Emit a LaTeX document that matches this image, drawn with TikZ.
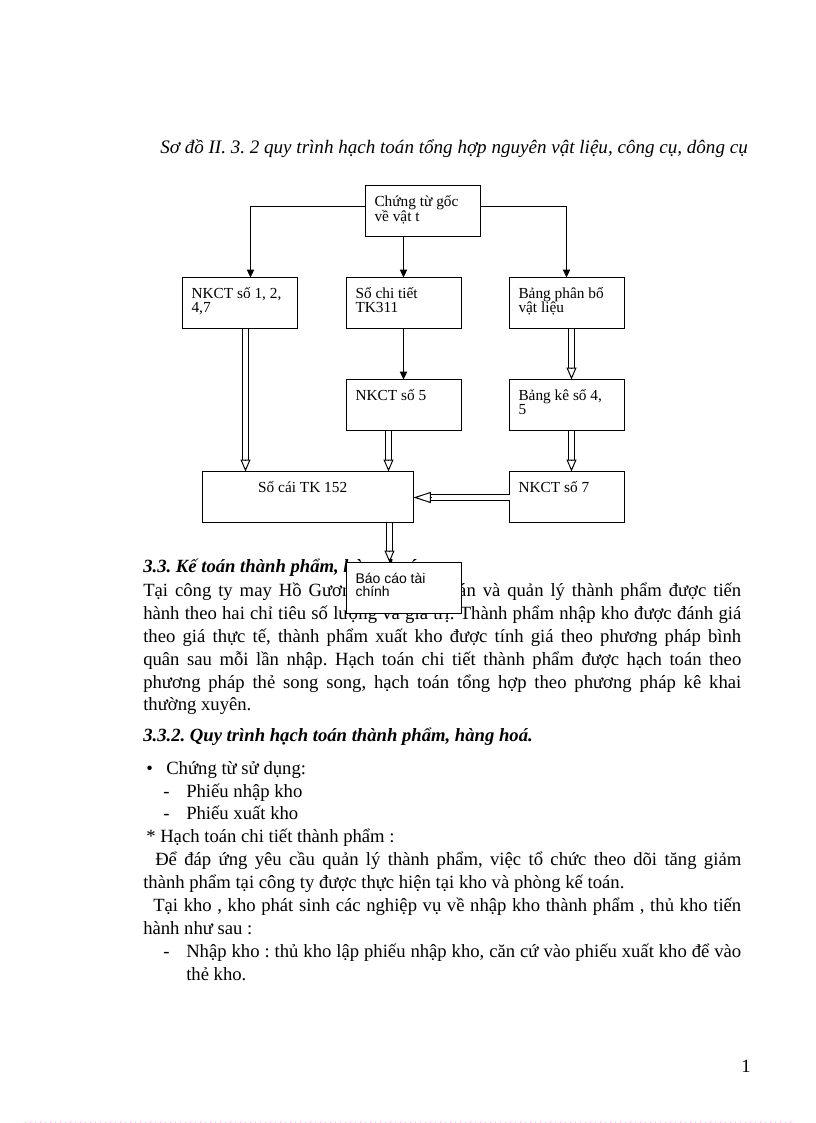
\documentclass[tikz,border=0pt]{standalone}
\usepackage{fontspec}
\setmainfont{Liberation Serif}
\newfontfamily\sansf{Liberation Sans}
\usetikzlibrary{arrows.meta,calc}
\frenchspacing
\definecolor{pinkdot}{RGB}{255,175,255}
\newcommand\bx[3]{\parbox[t][#2][t]{#1}{\rule{0pt}{15.5pt}#3}}
\newcommand\DblArrow[4]{%
  \draw[dbl, shorten >=#3] (#1) -- (#2);
  \draw[line width=0.75pt, -{Triangle[open,length=#3,width=#4]}] ($(#2)!#3!(#1)$) -- (#2);}
\begin{document}
\begin{tikzpicture}[x=0.75pt,y=-0.75pt,
  txt/.style={anchor=base west, inner sep=0pt, font=\fontsize{14}{17}\selectfont},
  boxnode/.style={draw, line width=0.75pt, fill=white, anchor=north west, outer sep=0pt,
    inner xsep=6.75pt, inner ysep=0pt, font=\fontsize{11.5}{10.7}\selectfont},
  sarrow/.style={line width=0.75pt, -{Triangle[length=6pt,width=5.5pt]}},
  dbl/.style={double, double distance=3.75pt, line width=0.75pt}]
\useasboundingbox (0,0) rectangle (816,1123);
\fill[white] (0,0) rectangle (816,1123);

% title
\node[txt, font=\fontsize{14.3}{17}\selectfont\itshape] (title) at (160,154) {Sơ đồ II. 3. 2 quy trình hạch toán tổng hợp nguyên vật liệu, công cụ, dông cụ};

% body text
\node[txt, font=\fontsize{14}{17}\selectfont\bfseries\itshape] (h1) at (143,572) {3.3. Kế toán thành phẩm, hàng hoá};
\node[txt] (p1) at (143,596.5) {\makebox[448.5pt][s]{Tại công ty may Hồ Gươm việc hạch toán và quản lý thành phẩm được tiến}};
\node[txt] (p2) at (143,619.5) {\makebox[448.5pt][s]{hành theo hai chỉ tiêu số lượng và giá trị. Thành phẩm nhập kho được đánh giá}};
\node[txt] (p3) at (143,642.5) {\makebox[448.5pt][s]{theo giá thực tế, thành phẩm xuất kho được tính giá theo phương pháp bình}};
\node[txt] (p4) at (143,665.5) {\makebox[448.5pt][s]{quân sau mỗi lần nhập. Hạch toán chi tiết thành phẩm được hạch toán theo}};
\node[txt] (p5) at (143,688.5) {\makebox[448.5pt][s]{phương pháp thẻ song song, hạch toán tổng hợp theo phương pháp kê khai}};
\node[txt] (p6) at (143,710.5) {thường xuyên.};
\node[txt, font=\fontsize{14}{17}\selectfont\bfseries\itshape] (h2) at (143,741) {3.3.2. Quy trình hạch toán thành phẩm, hàng hoá.};
\node[txt] (b1) at (146,774.5) {•};
\node[txt] (b1t) at (166,774.5) {Chứng từ sử dụng:};
\node[txt] (d1) at (163,797.5) {-};
\node[txt] (d1t) at (186,797.5) {Phiếu nhập kho};
\node[txt] (d2) at (163,819.5) {-};
\node[txt] (d2t) at (186,819.5) {Phiếu xuất kho};
\node[txt] (s1) at (146,842.5) {* Hạch toán chi tiết thành phẩm :};
\node[txt] (q1) at (155,865.5) {\makebox[439.5pt][s]{Để đáp ứng yêu cầu quản lý thành phẩm, việc tổ chức theo dõi tăng giảm}};
\node[txt] (q2) at (143,888.5) {thành phẩm tại công ty được thực hiện tại kho và phòng kế toán.};
\node[txt] (q3) at (153,911.5) {\makebox[441pt][s]{Tại kho , kho phát sinh các nghiệp vụ về nhập kho thành phẩm , thủ kho tiến}};
\node[txt] (q4) at (143,934.5) {hành như sau :};
\node[txt] (d3) at (163,957.5) {-};
\node[txt] (d3t) at (186,957.5) {\makebox[416.25pt][s]{Nhập kho : thủ kho lập phiếu nhập kho, căn cứ vào phiếu xuất kho để vào}};
\node[txt] (d3u) at (186,980.5) {thẻ kho.};
\node[txt] (pg) at (741,1072) {1};

% boxes
\node[boxnode] (goc) at (365.5,185.5) {\bx{72.75pt}{38.25pt}{Chứng từ gốc\\về vật t}};
\node[boxnode] (nk1) at (182.5,277.5) {\bx{72.75pt}{38.25pt}{NKCT số 1, 2,\\4,7}};
\node[boxnode] (sct) at (346.5,277.5) {\bx{72.75pt}{38.25pt}{Sổ chi tiết\\TK311}};
\node[boxnode] (bpb) at (509.5,277.5) {\bx{72.75pt}{38.25pt}{Bảng phân bổ\\vật liệu}};
\node[boxnode] (nk5) at (346.5,379.5) {\bx{72.75pt}{38.25pt}{NKCT số 5}};
\node[boxnode] (bk) at (509.5,379.5) {\bx{72.75pt}{38.25pt}{Bảng kê số 4,\\5}};
\node[boxnode] (soc) at (202.5,471.5) {\bx{144.75pt}{38.25pt}{\hspace*{35pt}Sổ cái TK 152}};
\node[boxnode] (nk7) at (509.5,471.5) {\bx{72.75pt}{38.25pt}{NKCT số 7}};
\node[boxnode, font=\sansf\fontsize{10.5}{10}\selectfont] (bctc) at (346.5,562.5) {\bx{72.75pt}{38.25pt}{Báo cáo tài\\chính}};

% single arrows
\draw[sarrow] ($(goc.north west)+(0,21)$) -| ($(nk1.north west)+(68,0)$);
\draw[sarrow] ($(goc.north east)+(0,21)$) -| ($(bpb.north west)+(57,0)$);
\draw[sarrow] ($(goc.south west)+(38,0)$) -- ($(sct.north west)+(57,0)$);
\draw[sarrow] ($(sct.south west)+(57,0)$) -- ($(nk5.north west)+(57,0)$);

% double arrows
\coordinate (a1s) at ($(nk1.south west)+(63,0)$);
\coordinate (a1e) at (a1s |- soc.north);
\DblArrow{a1s}{a1e}{9pt}{7.5pt}
\coordinate (a2s) at ($(nk5.south west)+(42,0)$);
\coordinate (a2e) at (a2s |- soc.north);
\DblArrow{a2s}{a2e}{9pt}{7.5pt}
\coordinate (a3s) at ($(bpb.south west)+(62,0)$);
\coordinate (a3e) at (a3s |- bk.north);
\DblArrow{a3s}{a3e}{9pt}{7.5pt}
\coordinate (a4s) at ($(bk.south west)+(62,0)$);
\coordinate (a4e) at (a4s |- nk7.north);
\DblArrow{a4s}{a4e}{9pt}{7.5pt}
\coordinate (a5s) at ($(nk7.north west)+(0,26)$);
\coordinate (a5e) at (a5s -| soc.east);
\DblArrow{a5s}{a5e}{13pt}{8.25pt}
\coordinate (a6s) at ($(soc.south west)+(187,0)$);
\coordinate (a6e) at (a6s |- bctc.north);
\DblArrow{a6s}{a6e}{9pt}{7.5pt}

% page edge marker
\draw[pinkdot, line width=0.75pt, dash pattern=on 0.75pt off 3pt] (25,1122) -- (792,1122);
\end{tikzpicture}
\end{document}
